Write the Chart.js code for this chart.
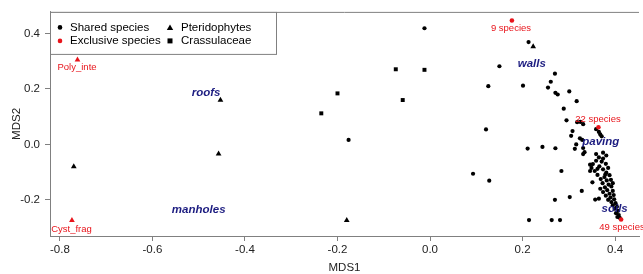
<!DOCTYPE html>
<html>
<head>
<meta charset="utf-8">
<script src="https://cdn.jsdelivr.net/npm/chart.js@4"></script>
<style>
  html, body { margin: 0; padding: 0; background: #fff; }
  #wrap { width: 643px; height: 274px; }
</style>
</head>
<body>
<div id="wrap"><canvas id="mds"></canvas></div>
<script>
// MDS scores
const sharedSpecies = [
  [-0.012, 0.419], [-0.176, 0.016], [0.213, 0.369], [0.150, 0.282], [0.270, 0.255],
  [0.261, 0.226], [0.255, 0.205], [0.126, 0.210], [0.201, 0.212], [0.271, 0.186],
  [0.276, 0.180], [0.301, 0.191], [0.289, 0.129], [0.317, 0.156], [0.295, 0.087],
  [0.121, 0.054], [0.318, 0.080], [0.325, 0.081], [0.331, 0.073], [0.308, 0.048],
  [0.305, 0.031], [0.359, 0.055], [0.365, 0.045], [0.368, 0.036], [0.371, 0.029],
  [0.324, 0.022], [0.329, 0.016], [0.316, 0.000], [0.313, -0.016], [0.331, -0.013],
  [0.334, -0.028], [0.331, -0.035], [0.211, -0.015], [0.243, -0.009], [0.271, -0.014],
  [0.093, -0.106], [0.128, -0.131], [0.284, -0.096], [0.270, -0.200], [0.302, -0.190],
  [0.328, -0.168], [0.214, -0.273], [0.263, -0.273], [0.281, -0.273], [0.351, -0.137],
  [0.357, -0.199], [0.365, -0.196],
  [0.359, -0.035], [0.365, -0.047], [0.359, -0.059], [0.374, -0.030], [0.381, -0.040],
  [0.374, -0.051], [0.352, -0.071], [0.349, -0.085], [0.356, -0.096], [0.366, -0.079],
  [0.374, -0.090], [0.381, -0.102], [0.385, -0.085], [0.388, -0.111], [0.377, -0.118],
  [0.346, -0.073], [0.346, -0.096], [0.362, -0.110], [0.369, -0.125], [0.382, -0.130],
  [0.391, -0.128], [0.373, -0.140], [0.386, -0.145], [0.378, -0.155], [0.392, -0.152],
  [0.383, -0.165], [0.395, -0.168], [0.374, -0.172], [0.388, -0.178], [0.380, -0.185],
  [0.397, -0.183], [0.390, -0.192], [0.385, -0.200], [0.398, -0.198], [0.392, -0.208],
  [0.401, -0.212], [0.395, -0.220], [0.404, -0.225], [0.399, -0.232], [0.406, -0.240],
  [0.402, -0.248], [0.408, -0.255], [0.405, -0.262], [0.410, -0.265], [0.371, -0.062],
  [0.380, -0.070], [0.362, -0.088], [0.395, -0.140], [0.379, -0.108], [0.368, -0.160]
];
const pteridophytes = [[-0.770, -0.080], [-0.453, 0.160], [-0.457, -0.034], [-0.180, -0.274], [0.223, 0.353]];
const crassulaceae = [[-0.074, 0.271], [-0.012, 0.269], [-0.200, 0.184], [-0.059, 0.160], [-0.235, 0.112]];
const exclusiveDots = [[0.177, 0.447], [0.364, 0.062], [0.413, -0.271]];
const exclusiveTriangles = [[-0.762, 0.305], [-0.774, -0.274]];

// text labels placed in data units
const siteNames = ['roofs', 'walls', 'paving', 'soils', 'manholes'];
const sitePos = [[-0.484, 0.187], [0.220, 0.290], [0.369, 0.010], [0.399, -0.234], [-0.500, -0.235]];
const exclNames = ['Poly_inte', 'Cyst_frag', '9 species', '22 species', '49 species'];
const exclPos = [[-0.763, 0.278], [-0.775, -0.306], [0.175, 0.417], [0.363, 0.090], [0.415, -0.301]];

const xTicks = [-0.8, -0.6, -0.4, -0.2, 0.0, 0.2, 0.4];
const yTicks = [-0.2, 0.0, 0.2, 0.4];

const FONT = '"Liberation Sans", Arial, sans-serif';
const GREY = '#808080';
const toPts = arr => arr.map(p => ({ x: p[0], y: p[1] }));

const overlay = {
  id: 'overlay',
  afterDraw(chart) {
    const ctx = chart.ctx;
    const xs = chart.scales.x, ys = chart.scales.y;
    const a = chart.chartArea;
    ctx.save();
    // top frame line
    ctx.strokeStyle = GREY;
    ctx.lineWidth = 1;
    ctx.beginPath();
    ctx.moveTo(a.left, a.top + 0.5);
    ctx.lineTo(a.right, a.top + 0.5);
    ctx.stroke();

    // site labels
    ctx.font = 'italic bold 11.5px ' + FONT;
    ctx.fillStyle = '#1c1c80';
    ctx.textAlign = 'center';
    ctx.textBaseline = 'middle';
    siteNames.forEach((n, i) => {
      ctx.fillText(n, xs.getPixelForValue(sitePos[i][0]), ys.getPixelForValue(sitePos[i][1]));
    });

    // exclusive species labels
    ctx.font = '9.5px ' + FONT;
    ctx.fillStyle = '#e8141b';
    exclNames.forEach((n, i) => {
      ctx.fillText(n, xs.getPixelForValue(exclPos[i][0]), ys.getPixelForValue(exclPos[i][1]));
    });

    // legend box
    const lx = a.left, ly = a.top, lw = 226, lh = 42;
    ctx.fillStyle = '#fff';
    ctx.fillRect(lx, ly, lw, lh);
    ctx.strokeStyle = GREY;
    ctx.strokeRect(lx + 0.5, ly + 0.5, lw, lh);
    ctx.font = '11.5px ' + FONT;
    ctx.textAlign = 'left';
    ctx.fillStyle = '#000';
    const rows = [ly + 15.5, ly + 29];
    ctx.fillText('Shared species', lx + 20, rows[0]);
    ctx.fillText('Exclusive species', lx + 20, rows[1]);
    ctx.fillText('Pteridophytes', lx + 131, rows[0]);
    ctx.fillText('Crassulaceae', lx + 131, rows[1]);
    ctx.beginPath(); ctx.arc(lx + 10, rows[0], 2.3, 0, Math.PI * 2); ctx.fill();
    ctx.fillStyle = '#e8141b';
    ctx.beginPath(); ctx.arc(lx + 10, rows[1], 2.3, 0, Math.PI * 2); ctx.fill();
    ctx.fillStyle = '#000';
    ctx.beginPath();
    ctx.moveTo(lx + 120, rows[0] - 3); ctx.lineTo(lx + 123.2, rows[0] + 2.5); ctx.lineTo(lx + 116.8, rows[0] + 2.5);
    ctx.closePath(); ctx.fill();
    ctx.fillRect(lx + 117.5, rows[1] - 2.5, 5, 5);

    // axis titles
    ctx.font = '11.5px ' + FONT;
    ctx.fillStyle = '#222';
    ctx.textAlign = 'center';
    ctx.fillText('MDS1', (a.left + a.right) / 2, 268);
    ctx.translate(17, (a.top + a.bottom) / 2);
    ctx.rotate(-Math.PI / 2);
    ctx.fillText('MDS2', 0, 0);
    ctx.restore();
  }
};

new Chart(document.getElementById('mds'), {
  type: 'scatter',
  data: {
    datasets: [
      { label: 'Exclusive dots', data: toPts(exclusiveDots), pointStyle: 'circle', pointRadius: 2.3,
        backgroundColor: '#e8141b', borderWidth: 0, order: 0 },
      { label: 'Exclusive triangles', data: toPts(exclusiveTriangles), pointStyle: 'triangle', pointRadius: 3.3,
        backgroundColor: '#e8141b', borderWidth: 0, order: 1 },
      { label: 'Pteridophytes', data: toPts(pteridophytes), pointStyle: 'triangle', pointRadius: 3.3,
        backgroundColor: '#000', borderWidth: 0, order: 2 },
      { label: 'Crassulaceae', data: toPts(crassulaceae), pointStyle: 'rect', pointRadius: 2.8,
        backgroundColor: '#000', borderWidth: 0, order: 3 },
      { label: 'Shared species', data: toPts(sharedSpecies), pointStyle: 'circle', pointRadius: 2.1,
        backgroundColor: '#000', borderWidth: 0, order: 4 }
    ]
  },
  options: {
    responsive: true,
    maintainAspectRatio: false,
    animation: false,
    layout: { padding: { top: 8, right: 0, left: 0, bottom: 0 } },
    plugins: { legend: { display: false }, tooltip: { enabled: false } },
    scales: {
      x: {
        type: 'linear', min: -0.8214, max: 0.4517,
        afterBuildTicks: s => { s.ticks = xTicks.map(v => ({ value: v })); },
        afterFit: s => { s.height = 38; },
        ticks: { font: { family: FONT, size: 11.5 }, color: '#222', padding: 2, maxRotation: 0,
                 callback: v => v.toFixed(1) },
        grid: { drawOnChartArea: false, drawTicks: true, tickLength: 5, color: GREY },
        border: { display: true, color: GREY, width: 1 }
      },
      y: {
        type: 'linear', min: -0.3305, max: 0.478,
        afterBuildTicks: s => { s.ticks = yTicks.map(v => ({ value: v })); },
        afterFit: s => { s.width = 50; },
        ticks: { font: { family: FONT, size: 11.5 }, color: '#222', padding: 5,
                 callback: v => v.toFixed(1) },
        grid: { drawOnChartArea: false, drawTicks: true, tickLength: 5, color: GREY },
        border: { display: true, color: GREY, width: 1 }
      }
    }
  },
  plugins: [overlay]
});
</script>
</body>
</html>
